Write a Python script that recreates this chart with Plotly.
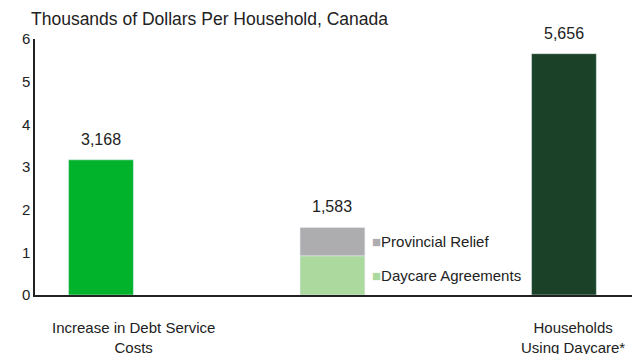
import plotly.graph_objects as go

categories = ["Increase in Debt Service<br>Costs", "", "Households<br>Using Daycare*"]
x_pos = [0, 1, 2]
debt_service = [3.168]
daycare_agreements = [0.92]
provincial_relief = [0.663]
households_daycare = [5.656]
totals = [3.168, 1.583, 5.656]
total_labels = ["3,168", "1,583", "5,656"]
y_ticks = [0, 1, 2, 3, 4, 5, 6]

font = "Liberation Sans, Arial, sans-serif"
txt = "#222222"
bw = 0.28

fig = go.Figure()
fig.add_trace(go.Bar(x=[x_pos[0]], y=debt_service, width=bw, marker_color="#00b32b", showlegend=False))
fig.add_trace(go.Bar(x=[x_pos[1]], y=daycare_agreements, width=bw, marker_color="#acd99e", showlegend=False))
fig.add_trace(go.Bar(x=[x_pos[1]], y=provincial_relief, width=bw, marker_color="#adadb0", showlegend=False,
                     base=daycare_agreements))
fig.add_trace(go.Bar(x=[x_pos[2]], y=households_daycare, width=bw, marker_color="#1b4228", showlegend=False))

ann = []
for xp, t, lab in zip(x_pos, totals, total_labels):
    ann.append(dict(x=xp, y=t, text=lab, showarrow=False, yanchor="bottom", yshift=10,
                    font=dict(size=16, color=txt, family=font)))
# segment labels
ann.append(dict(x=x_pos[1] + bw / 2, y=daycare_agreements[0] + provincial_relief[0] / 2, xanchor="left", xshift=5,
                text='<span style="color:#adadb0">■</span>Provincial Relief', showarrow=False,
                font=dict(size=15, color=txt, family=font)))
ann.append(dict(x=x_pos[1] + bw / 2, y=daycare_agreements[0] / 2, xanchor="left", xshift=5,
                text='<span style="color:#acd99e">■</span>Daycare Agreements', showarrow=False,
                font=dict(size=15, color=txt, family=font)))
# category labels
cat_x = [0.14, 1, 2.04]
for cx, c in zip(cat_x, categories):
    if c:
        ann.append(dict(x=cx, y=0, text=c, showarrow=False, yanchor="top", yshift=-22,
                        font=dict(size=15, color=txt, family=font)))
ann.append(dict(x=0, y=1, xref="paper", yref="paper", xshift=-6, yshift=8, xanchor="left", yanchor="bottom",
                text="Thousands of Dollars Per Household, Canada", showarrow=False,
                font=dict(size=17.5, color=txt, family=font)))

fig.update_layout(
    width=632, height=354,
    margin=dict(l=35, r=0, t=39, b=59),
    paper_bgcolor="white", plot_bgcolor="white",
    barmode="overlay",
    annotations=ann,
    xaxis=dict(range=[-0.285, 2.294], showticklabels=False, ticks="", showgrid=False, zeroline=False,
               showline=True, linecolor="#222", linewidth=1.5),
    yaxis=dict(range=[0, 6], tickvals=y_ticks, showgrid=False, zeroline=False, showline=True,
               linecolor="#222", linewidth=1.5, ticks="", ticklen=0,
               tickfont=dict(size=15, color=txt, family=font)),
)
fig.write_html("out.html")
